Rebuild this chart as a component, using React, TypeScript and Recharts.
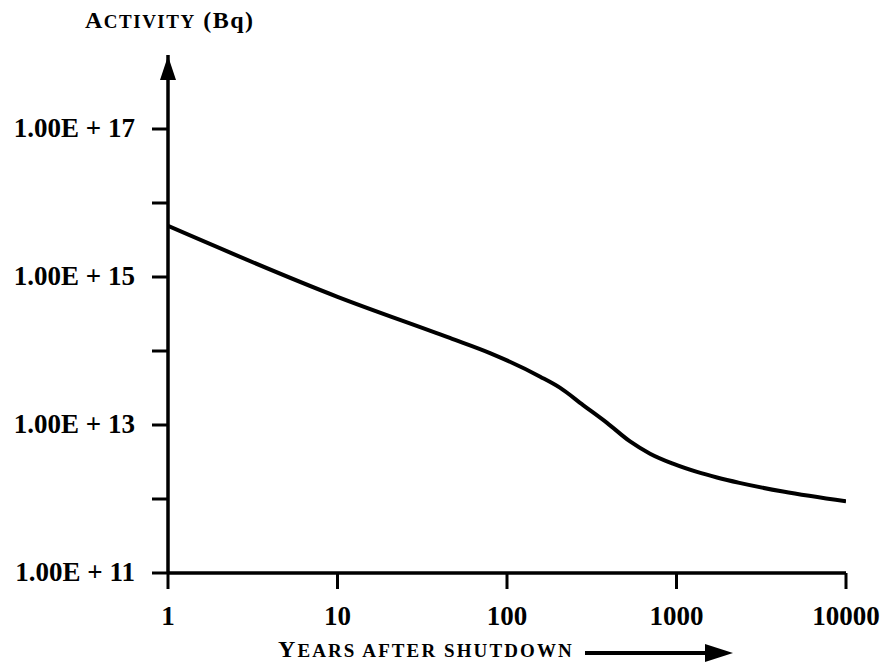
import React from 'react';
import { LineChart, Line, XAxis, YAxis } from 'recharts';

// years after shutdown and the activity (Bq)
const years = [1, 10, 46, 80, 157, 205, 281, 389, 532, 698, 953, 1321, 1733, 2350, 4250, 10000];
const activity = [
  4.9e15, 5.4e14, 1.5e14, 9.3e13, 4.5e13, 3.2e13, 1.86e13, 1.07e13, 6.0e12, 4.1e12, 3.0e12,
  2.32e12, 1.95e12, 1.65e12, 1.26e12, 9.3e11,
];

const xTicks = [1, 10, 100, 1000, 10000];
const yTicks = [1e11, 1e12, 1e13, 1e14, 1e15, 1e16, 1e17];
const yLabelValues = [1e11, 1e13, 1e15, 1e17];
const yLabels = ['1.00E + 11', '1.00E + 13', '1.00E + 15', '1.00E + 17'];

const data = years.map((year, i) => ({ year, activity: activity[i] }));

const FONT = '"Liberation Serif", "Times New Roman", serif';

const YTick = ({ x, y, payload }: any) => {
  const i = yLabelValues.indexOf(payload.value);
  if (i < 0) return <g />;
  return (
    <text x={x} y={y} dy={8} textAnchor="end" fontFamily={FONT} fontWeight="bold" fontSize={27} fill="#000">
      {yLabels[i]}
    </text>
  );
};

const XTick = ({ x, y, payload }: any) => (
  <text x={x} y={y} dy={18} textAnchor="middle" fontFamily={FONT} fontWeight="bold" fontSize={27} fill="#000">
    {payload.value}
  </text>
);

const YAxisDecor = ({ viewBox }: any) => {
  const ax = viewBox.x + viewBox.width;
  const top = viewBox.y;
  return (
    <g>
      <polygon points={`${ax},${top + 1} ${ax - 8},${top + 25} ${ax + 8},${top + 25}`} fill="#000" />
      <text x={85} y={28} fontFamily={FONT} fontWeight="bold" fontSize={24} letterSpacing={1.5} fill="#000">
        <tspan>A</tspan>
        <tspan fontSize={19}>CTIVITY</tspan>
        <tspan> (Bq)</tspan>
      </text>
    </g>
  );
};

const XAxisDecor = ({ viewBox }: any) => {
  const left = viewBox.x;
  const top = viewBox.y;
  return (
    <g>
      <text x={left + 110} y={top + 84} fontFamily={FONT} fontWeight="bold" fontSize={24} letterSpacing={2.1} fill="#000">
        <tspan>Y</tspan>
        <tspan fontSize={19}>EARS AFTER SHUTDOWN</tspan>
      </text>
      <line x1={left + 417} y1={top + 80} x2={left + 540} y2={top + 80} stroke="#000" strokeWidth={4} />
      <polygon
        points={`${left + 565},${top + 80} ${left + 537},${top + 71} ${left + 537},${top + 89}`}
        fill="#000"
      />
    </g>
  );
};

const App = () => {
  return (
    <div style={{ position: 'absolute', left: 0, top: 0, background: '#fff' }}>
      <LineChart width={883} height={672} data={data} margin={{ top: 55, right: 37, bottom: 0, left: 0 }}>
        <XAxis
          dataKey="year"
          type="number"
          scale="log"
          domain={[1, 10000]}
          ticks={xTicks}
          tick={<XTick />}
          tickSize={16}
          tickMargin={18}
          height={99}
          axisLine={{ stroke: '#000', strokeWidth: 3.5 }}
          tickLine={{ stroke: '#000', strokeWidth: 3 }}
          allowDataOverflow
          label={<XAxisDecor />}
        />
        <YAxis
          type="number"
          scale="log"
          domain={[1e11, 1e18]}
          ticks={yTicks}
          tick={<YTick />}
          tickSize={16}
          tickMargin={17}
          width={168}
          axisLine={{ stroke: '#000', strokeWidth: 3.5 }}
          tickLine={{ stroke: '#000', strokeWidth: 3 }}
          allowDataOverflow
          label={<YAxisDecor />}
        />
        <Line
          dataKey="activity"
          type="monotone"
          stroke="#000"
          strokeWidth={4}
          dot={false}
          isAnimationActive={false}
        />
      </LineChart>
    </div>
  );
};

export default App;
